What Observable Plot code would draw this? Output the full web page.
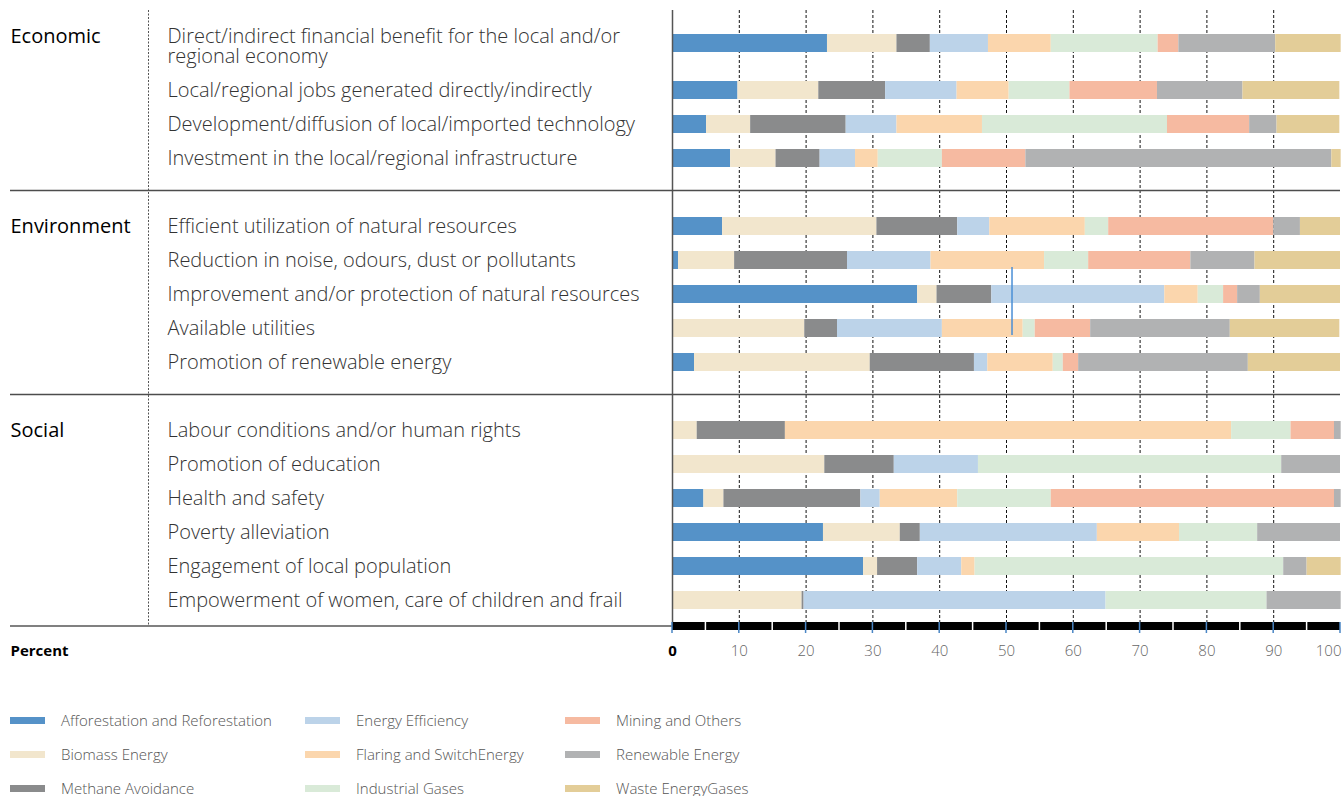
<!DOCTYPE html>
<html>
<head>
<meta charset="utf-8">
<script src="https://cdn.jsdelivr.net/npm/d3@7"></script>
<script src="https://cdn.jsdelivr.net/npm/@observablehq/plot@0.6"></script>
<style>
  body { margin: 0; background: #fff; font-family: "Open Sans", sans-serif; }
  #chart svg g[font-size="15"] text { font-stretch: 90%; }
  #legend {
    display: grid;
    grid-template-columns: 295px 260px 260px;
    grid-template-rows: 34px 34px 34px;
    grid-auto-flow: column;
    padding-left: 10px;
    margin-top: 33px;
  }
  .li { display: flex; align-items: center; font-size: 15px; font-weight: 300; color: #555; }
  .sw { width: 35px; height: 7px; margin-right: 16px; flex: none; }
</style>
</head>
<body>
<div id="chart"></div>
<div id="legend"></div>
<script>
// ---- data ----
const series = [
  "Afforestation and Reforestation", "Biomass Energy", "Methane Avoidance",
  "Energy Efficiency", "Flaring and SwitchEnergy", "Industrial Gases",
  "Mining and Others", "Renewable Energy", "Waste EnergyGases"
];
const colors = ["#5592c8", "#f2e6cd", "#8a8b8c", "#bcd3e9", "#fbd6ad", "#d9ead8", "#f6baa1", "#b1b2b3", "#e3cd98"];

const groups = ["Economic", "Environment", "Social"];
const groupStart = [0, 4, 9];
const items = [
  "Direct/indirect financial benefit for the local and/or\nregional economy",
  "Local/regional jobs generated directly/indirectly",
  "Development/diffusion of local/imported technology",
  "Investment in the local/regional infrastructure",
  "Efficient utilization of natural resources",
  "Reduction in noise, odours, dust or pollutants",
  "Improvement and/or protection of natural resources",
  "Available utilities",
  "Promotion of renewable energy",
  "Labour conditions and/or human rights",
  "Promotion of education",
  "Health and safety",
  "Poverty alleviation",
  "Engagement of local population",
  "Empowerment of women, care of children and frail"
];

const afforestation = [23.2, 9.8, 5.1, 8.7, 7.5, 0.9, 36.7, 0, 3.3, 0, 0, 4.7, 22.6, 28.6, 0];
const biomass       = [10.4, 12.1, 6.6, 6.8, 23.1, 8.4, 2.9, 19.8, 26.3, 3.7, 22.8, 3.0, 11.5, 2.1, 19.4];
const methane       = [5.0, 10.0, 14.3, 6.6, 12.1, 16.9, 8.2, 4.9, 15.6, 13.2, 10.4, 20.5, 3.0, 6.0, 0.3];
const energyEff     = [8.7, 10.7, 7.6, 5.3, 4.8, 12.5, 25.9, 15.7, 2.0, 0, 12.6, 2.9, 26.5, 6.6, 45.2];
const flaring       = [9.4, 7.8, 12.8, 3.4, 14.3, 17.0, 5.0, 12.1, 9.8, 66.8, 0, 11.6, 12.3, 2.0, 0];
const industrial    = [16.0, 9.1, 27.7, 9.6, 3.5, 6.6, 3.8, 1.8, 1.5, 8.9, 45.4, 14.0, 11.7, 46.2, 24.1];
const mining        = [3.1, 13.1, 12.3, 12.5, 24.7, 15.3, 2.1, 8.3, 2.3, 6.5, 0, 42.4, 0, 0, 0];
const renewable     = [14.5, 12.8, 4.1, 45.8, 4.0, 9.6, 3.4, 20.9, 25.4, 1.0, 8.8, 1.0, 12.4, 3.5, 11.1];
const waste         = [9.8, 14.5, 9.4, 1.4, 6.0, 12.8, 12.0, 16.4, 13.8, 0, 0, 0, 0, 5.1, 0];

const xTicks = [10, 20, 30, 40, 50, 60, 70, 80, 90];
const highlight = {value: 50.9, fromRow: 5, toRow: 7};

// ---- build tables ----
const valuesBySeries = [afforestation, biomass, methane, energyEff, flaring, industrial, mining, renewable, waste];
const rowKeys = items.map((_, i) => "r" + i);
const data = [];
items.forEach((_, i) => series.forEach((s, j) => data.push({key: rowKeys[i], row: i, series: s, value: valuesBySeries[j][i]})));
const yDomain = [...rowKeys.slice(0, 4), "gap1", ...rowKeys.slice(4, 9), "gap2", ...rowKeys.slice(9)];
const itemRows = items.map((label, i) => ({key: rowKeys[i], label, row: i}));
const groupRows = groups.map((g, i) => ({key: rowKeys[groupStart[i]], label: g, idx: i}));

function decorations(index, scales, values, dimensions) {
  const {x, y} = scales;
  const bw = y.bandwidth ? y.bandwidth() : 18;
  const yc = k => y(k) + bw / 2;
  const {height, marginTop, marginBottom} = dimensions;
  const fb = height - marginBottom;
  const g = d3.create("svg:g");
  for (const k of ["gap1", "gap2"]) {
    g.append("line").attr("x1", 10).attr("x2", x(100)).attr("y1", yc(k) - 1.5).attr("y2", yc(k) - 1.5)
      .attr("stroke", "#4d4d4d").attr("stroke-width", 1.5);
  }
  g.append("line").attr("x1", 10).attr("x2", x(0)).attr("y1", fb).attr("y2", fb)
    .attr("stroke", "#808080").attr("stroke-width", 2);
  g.append("line").attr("x1", 148.5).attr("x2", 148.5).attr("y1", marginTop).attr("y2", fb)
    .attr("stroke", "#555").attr("stroke-width", 1).attr("stroke-dasharray", "2,1.5");
  g.append("rect").attr("x", x(0)).attr("width", x(100) - x(0)).attr("y", fb - 4).attr("height", 8).attr("fill", "#000");
  for (let v = 5; v < 100; v += 10) {
    g.append("line").attr("x1", x(v)).attr("x2", x(v)).attr("y1", fb - 4).attr("y2", fb + 4)
      .attr("stroke", "#fff").attr("stroke-width", 1.5);
  }
  for (let v = 0; v <= 100; v += 10) {
    g.append("line").attr("x1", x(v)).attr("x2", x(v)).attr("y1", fb - 4).attr("y2", fb + 7)
      .attr("stroke", "#4a86c5").attr("stroke-width", 1.5);
  }
  g.append("line").attr("x1", x(highlight.value)).attr("x2", x(highlight.value))
    .attr("y1", y(rowKeys[highlight.fromRow]) + bw - 2).attr("y2", y(rowKeys[highlight.toRow]) + bw - 2)
    .attr("stroke", "#4a8fd6").attr("stroke-width", 1.5);
  return g.node();
}

const plot = Plot.plot({
  width: 1343, height: 670,
  marginLeft: 672, marginRight: 3, marginTop: 10, marginBottom: 44,
  x: {domain: [0, 100], axis: null},
  y: {domain: yDomain, axis: null, paddingInner: 0.47, paddingOuter: 0.235, insetTop: 29, insetBottom: 9},
  color: {domain: series, range: colors},
  style: {fontFamily: '"Open Sans", sans-serif', background: "white", overflow: "visible"},
  marks: [
    Plot.ruleX(xTicks, {stroke: "#111", strokeDasharray: "3,2", strokeWidth: 1}),
    Plot.barX(data.filter(d => d.row !== 0), Plot.stackX({x: "value", y: "key", fill: "series"})),
    Plot.barX(data.filter(d => d.row === 0), Plot.stackX({x: "value", y: "key", fill: "series", dy: -13})),
    Plot.ruleX([0], {stroke: "#555", strokeWidth: 1.5}),
    decorations,
    // item labels
    Plot.text(itemRows.filter(d => d.row !== 0), {y: "key", text: "label", frameAnchor: "left", textAnchor: "start", dx: -505, fontSize: 20, fontWeight: 300, fill: "#333"}),
    Plot.text(itemRows.filter(d => d.row === 0), {y: "key", text: "label", frameAnchor: "left", textAnchor: "start", dx: -505, dy: -10, fontSize: 20, fontWeight: 300, fill: "#333"}),
    // group labels
    Plot.text(groupRows.filter(d => d.idx !== 0), {y: "key", text: "label", frameAnchor: "left", textAnchor: "start", dx: -662, fontSize: 20, fontWeight: 500, fill: "#000"}),
    Plot.text(groupRows.filter(d => d.idx === 0), {y: "key", text: "label", frameAnchor: "left", textAnchor: "start", dx: -662, dy: -20, fontSize: 20, fontWeight: 500, fill: "#000"}),
    // x tick labels
    Plot.text(xTicks, {x: d => d, text: d => String(d), frameAnchor: "bottom", dy: 29, fontSize: 15, fontWeight: 300, fill: "#666"}),
    Plot.text([100], {x: d => d, text: d => String(d), frameAnchor: "bottom", dy: 29, textAnchor: "end", dx: 1, fontSize: 15, fontWeight: 300, fill: "#666"}),
    Plot.text([0], {x: d => d, text: d => String(d), frameAnchor: "bottom", dy: 29, fontSize: 15, fontWeight: 700, fill: "#000"}),
    Plot.text(["Percent"], {frameAnchor: "bottom-left", text: d => d, dx: -662, dy: 29, textAnchor: "start", fontSize: 15, fontWeight: 700, fill: "#000"})
  ]
});
document.getElementById("chart").append(plot);

// legend
const legend = document.getElementById("legend");
series.forEach((s, i) => {
  const el = document.createElement("div");
  el.className = "li";
  el.innerHTML = `<span class="sw" style="background:${colors[i]}"></span><span>${s}</span>`;
  legend.append(el);
});
</script>
</body>
</html>
